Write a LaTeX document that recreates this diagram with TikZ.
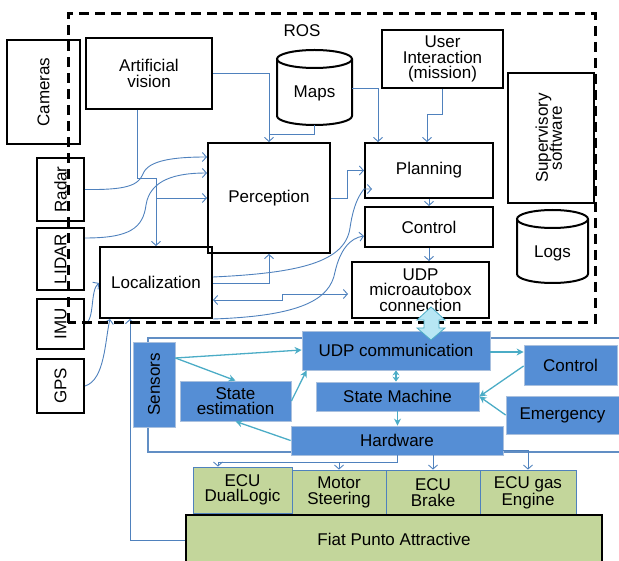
\documentclass[tikz,border=0pt]{standalone}
\usepackage{fontspec}
\setmainfont{Liberation Sans}
\usetikzlibrary{arrows.meta,calc}
\definecolor{lnblue}{HTML}{4F81BD}
\definecolor{teal2}{HTML}{4BACC6}
\definecolor{boxblue}{HTML}{558ED5}
\definecolor{boxbord}{HTML}{A9C0DE}
\definecolor{grn}{HTML}{C3D69B}
\definecolor{fatfill}{HTML}{B7E6F4}
\begin{document}
\begin{tikzpicture}[x=1pt,y=-1pt,
  font=\fontsize{17}{15.5}\selectfont,
  bbox/.style={draw=black,line width=2pt,inner sep=0pt,align=center},
  bluebox/.style={fill=boxblue,draw=boxbord,line width=0.8pt,inner sep=0pt,align=center},
  grnbox/.style={fill=grn,draw=lnblue,line width=0.8pt,inner sep=0pt,align=center},
  conn/.style={draw=lnblue,line width=0.9pt,-{Straight Barb[length=4pt,width=9pt]}},
  plainconn/.style={draw=lnblue,line width=0.9pt},
  tconn/.style={draw=teal2,line width=1.3pt,-{Stealth[length=7pt,width=7pt]}},
  invis/.style={inner sep=0pt,align=center}
]
\useasboundingbox (0,0) rectangle (619,561);

% ---- upper (ROS) boxes ----
\node[bbox,minimum width=73,minimum height=104] (cam) at (43.5,92) {\rotatebox{90}{Cameras}};
\node[bbox,minimum width=47,minimum height=63] (radar) at (60.5,189.5) {\rotatebox{90}{Radar}};
\node[bbox,minimum width=47,minimum height=62] (lidar) at (60.5,259) {\rotatebox{90}{LIDAR}};
\node[bbox,minimum width=47,minimum height=50] (imu) at (60.5,324) {\rotatebox{90}{IMU}};
\node[bbox,minimum width=47,minimum height=54] (gps) at (60.5,386) {\rotatebox{90}{GPS}};
\node[bbox,minimum width=126,minimum height=71] (av) at (149,73.5) {Artificial\\vision};
\node[bbox,minimum width=121,minimum height=58] (ui) at (442.5,59) {User\\Interaction\\(mission)};
\node[bbox,minimum width=86,minimum height=130] (sup) at (551,138) {\rotatebox{90}{\begin{tabular}{@{}c@{}}Supervisory\\[-3pt]software\end{tabular}}};
\node[bbox,minimum width=122,minimum height=110] (perc) at (269,198) {Perception};
\node[bbox,minimum width=128,minimum height=55] (plan) at (429,170.5) {Planning};
\node[bbox,minimum width=128,minimum height=40] (ctrl) at (429,227) {Control};
\node[bbox,minimum width=137,minimum height=56] (udpm) at (420.5,290) {UDP\\microautobox\\connection};
\node[bbox,minimum width=112,minimum height=71] (loc) at (156,282.5) {Localization};

% cylinders
\draw[line width=2pt,fill=white] (277,59) -- (277,116) arc[start angle=180,end angle=360,x radius=37.5pt,y radius=9pt] -- (352,59);
\draw[line width=2pt] (314.5,59) ellipse [x radius=37.5pt,y radius=9pt];
\node[invis,minimum width=75,minimum height=75] (maps) at (314.5,87.5) {};
\node[invis] at (314.5,93) {Maps};
\draw[line width=2pt,fill=white] (517,219) -- (517,274) arc[start angle=180,end angle=360,x radius=35.5pt,y radius=9pt] -- (588,219);
\draw[line width=2pt] (552.5,219) ellipse [x radius=35.5pt,y radius=9pt];
\node[invis,minimum width=71,minimum height=73] (logs) at (552.5,246.5) {};
\node[invis] at (552.5,253) {Logs};

\node[invis] (ros) at (302,31) {ROS};

% ---- upper connectors ----
\draw[conn] (av.east) -| (perc.north);
\draw[plainconn] (maps.south) -- (314.5,134) -- (perc.north |- 0,134);
\draw[conn] (maps.east |- 0,88) -| (plan.north -| 378,0);
\draw[conn] (ui.south) -- (442.5,114) -| (plan.north -| 427,0);
\draw[conn] (plan.south) -- (ctrl.north);
\draw[conn] (ctrl.south) -- (ctrl.south |- udpm.north);
\draw[conn] (perc.east) -- (347,198) |- (plan.west);
\draw[plainconn] (av.south -| 137,0) -- (137,178) -- (156,178);
\draw[conn] (156,178) -- (loc.north);
\draw[conn] (156,198) -- (perc.west);
\draw[conn] (radar.east) .. controls (125,190) and (138,186) .. (143,174) .. controls (148,160) and (175,157) .. (perc.west |- 0,157);
\draw[conn] (lidar.east |- 0,238) .. controls (130,238) and (143,228) .. (146,205) .. controls (150,180) and (175,173) .. (perc.west |- 0,173);
\draw[conn] (imu.east) .. controls (95,320) and (90,290) .. (loc.west |- 0,283);
\draw[conn] (gps.east) .. controls (105,380) and (105,340) .. (loc.south -| 110,0);
\draw[conn] (loc.east |- 0,283) -| (perc.south);
\draw[conn] (loc.east |- 0,277) .. controls (300,273) and (345,262) .. (350,228) .. controls (354,200) and (362,192) .. (plan.west |- 0,189) -- ++(8,0);
\draw[conn] (loc.south east) .. controls (300,316) and (330,300) .. (335,272) .. controls (340,250) and (350,238) .. (ctrl.west |- 0,236);
\draw[draw=lnblue,line width=0.9pt,{Straight Barb[length=4pt,width=9pt]}-{Straight Barb[length=4pt,width=9pt]}] (loc.east |- 0,300) -- (282,300) -- (282,294) -- ([xshift=-3pt]udpm.west |- 0,294);

% ---- lower part ----
\draw[draw=lnblue!90,line width=2pt] (625,338) -- (148,338) -- (148,452) -- (625,452);
\node[bluebox,minimum width=42,minimum height=85] (sensors) at (154,384.5) {\rotatebox{90}{Sensors}};
\node[bluebox,minimum width=188,minimum height=39] (udpc) at (396,350.5) {UDP communication};
\node[bluebox,minimum width=111,minimum height=40] (se) at (235.5,401) {State\\estimation};
\node[bluebox,minimum width=163,minimum height=29] (sm) at (397.5,396.5) {State Machine};
\node[bluebox,minimum width=212,minimum height=29] (hw) at (397,440.5) {Hardware};
\node[bluebox,minimum width=93,minimum height=40] (bctrl) at (570.5,365) {Control};
\node[bluebox,minimum width=113,minimum height=38] (emer) at (562.5,415) {Emergency};

\draw[tconn] (sensors.east |- 0,358) -- (udpc.west |- 0,350);
\draw[tconn] (sensors.east |- 0,358) -- (se.north);
\draw[tconn] (se.east) -- ([xshift=5pt]udpc.south west);
\draw[draw=teal2,line width=1.3pt,{Stealth[length=5pt,width=7pt]}-{Stealth[length=5pt,width=7pt]}] (udpc.south) -- (udpc.south |- sm.north);
\draw[tconn] (sm.south) -- (sm.south |- hw.north);
\draw[tconn] (hw.west) -- (se.south);
\draw[tconn] (udpc.east |- 0,352) -- (bctrl.west |- 0,352);
\draw[tconn] (bctrl.west |- 0,366) -- (sm.east);
\draw[tconn] (emer.west |- 0,415) -- (sm.east);

% green boxes
\node[grnbox,minimum width=99,minimum height=46] (ecu1) at (242.5,490) {ECU\\DualLogic};
\node[grnbox,minimum width=94,minimum height=45] (mot) at (339,492.5) {Motor\\Steering};
\node[grnbox,minimum width=94,minimum height=45] (brake) at (433,492.5) {ECU\\Brake};
\node[grnbox,minimum width=96,minimum height=45] (gas) at (528,492.5) {ECU gas\\Engine};
\node[fill=grn,draw=black,line width=2pt,minimum width=416,minimum height=48,inner sep=0pt] (fiat) at (394,539) {Fiat Punto Attractive};

\draw[plainconn] (hw.south) |- (218,462);
\draw[conn] (218,462) -- (ecu1.north -| 218,0);
\draw[conn] (339,462) -- (mot.north);
\draw[conn] (brake.north |- hw.south) -- (brake.north);
\draw[conn] (hw.east |- 0,450) -| (gas.north);
\draw[conn] (fiat.west |- 0,540) -| (loc.south -| 130,0);

% ROS dashed frame
\draw[line width=3pt,dash pattern=on 10pt off 6pt] (68,323) -- (68,14) -- (595,14) -- (595,323) -- cycle;

% fat double arrow
\draw[fill=fatfill,draw=teal2,line width=0.8pt] (431,307) -- (445,320) -- (439,320) -- (439,328) -- (445,328) -- (431,340) -- (417,328) -- (424,328) -- (424,320) -- (417,320) -- cycle;
\end{tikzpicture}
\end{document}
